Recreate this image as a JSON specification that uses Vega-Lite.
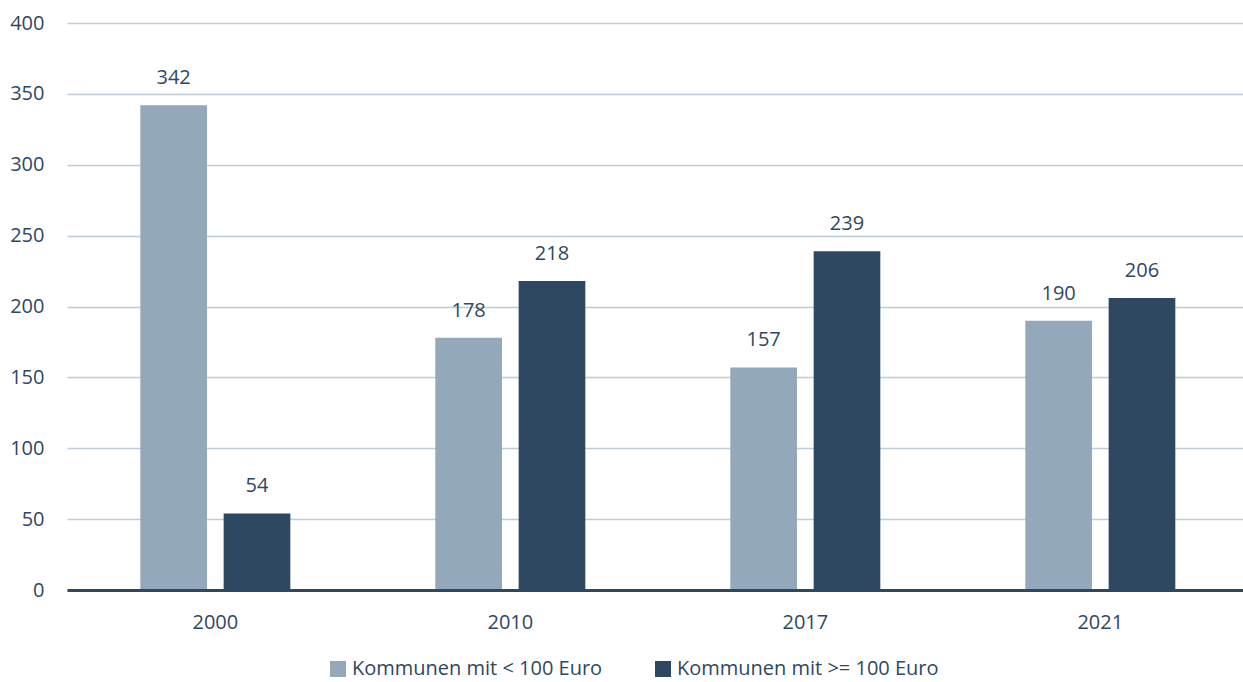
{
  "$schema": "https://vega.github.io/schema/vega-lite/v6.json",
  "autosize": "none",
  "width": 1176,
  "height": 567,
  "padding": {"left": 67, "top": 23, "right": 0, "bottom": 92},
  "background": "white",
  "config": {
    "view": {"stroke": null},
    "font": "Open Sans",
    "text": {"font": "Open Sans"}
  },
  "data": {
    "values": [
      {"Jahr": "2000", "Gruppe": "Kommunen mit < 100 Euro", "Wert": 342},
      {"Jahr": "2000", "Gruppe": "Kommunen mit >= 100 Euro", "Wert": 54},
      {"Jahr": "2010", "Gruppe": "Kommunen mit < 100 Euro", "Wert": 178},
      {"Jahr": "2010", "Gruppe": "Kommunen mit >= 100 Euro", "Wert": 218},
      {"Jahr": "2017", "Gruppe": "Kommunen mit < 100 Euro", "Wert": 157},
      {"Jahr": "2017", "Gruppe": "Kommunen mit >= 100 Euro", "Wert": 239},
      {"Jahr": "2021", "Gruppe": "Kommunen mit < 100 Euro", "Wert": 190},
      {"Jahr": "2021", "Gruppe": "Kommunen mit >= 100 Euro", "Wert": 206}
    ]
  },
  "encoding": {
    "x": {
      "field": "Jahr",
      "type": "nominal",
      "title": null,
      "scale": {"paddingInner": 0.4915, "paddingOuter": 0.239, "align": 0.52},
      "axis": {
        "labelAngle": 0,
        "labelFont": "Open Sans",
        "labelFontSize": 20,
        "labelColor": "#2E4862",
        "labelPadding": 22,
        "ticks": false,
        "domainColor": "#2E4862",
        "domainWidth": 3,
        "grid": false,
        "zindex": 1
      }
    },
    "xOffset": {
      "field": "Gruppe",
      "type": "nominal",
      "scale": {"paddingInner": 0.2, "paddingOuter": 0}
    },
    "y": {
      "field": "Wert",
      "type": "quantitative",
      "title": null,
      "scale": {"domain": [0, 400], "nice": false},
      "axis": {
        "values": [0, 50, 100, 150, 200, 250, 300, 350, 400],
        "labelFont": "Open Sans",
        "labelFontSize": 20,
        "labelColor": "#2E4862",
        "labelPadding": 23,
        "ticks": false,
        "domain": false,
        "gridColor": "#BFCBD7",
        "gridWidth": 1.5
      }
    }
  },
  "layer": [
    {
      "mark": {"type": "bar"},
      "encoding": {
        "color": {
          "field": "Gruppe",
          "type": "nominal",
          "scale": {
            "domain": ["Kommunen mit < 100 Euro", "Kommunen mit >= 100 Euro"],
            "range": ["#93A8BB", "#2E4862"]
          },
          "legend": {
            "title": null,
            "orient": "none",
            "legendX": 261,
            "legendY": 636,
            "direction": "horizontal",
            "symbolType": "square",
            "symbolSize": 256,
            "symbolStrokeWidth": 0,
            "labelFont": "Open Sans",
            "labelFontSize": 20,
            "labelColor": "#2E4862",
            "labelLimit": 400,
            "columnPadding": 50,
            "labelOffset": 4
          }
        }
      }
    },
    {
      "mark": {"type": "text", "baseline": "alphabetic", "dy": -21, "fontSize": 20, "color": "#2E4862", "font": "Open Sans"},
      "encoding": {
        "text": {"field": "Wert", "type": "quantitative"}
      }
    }
  ]
}
